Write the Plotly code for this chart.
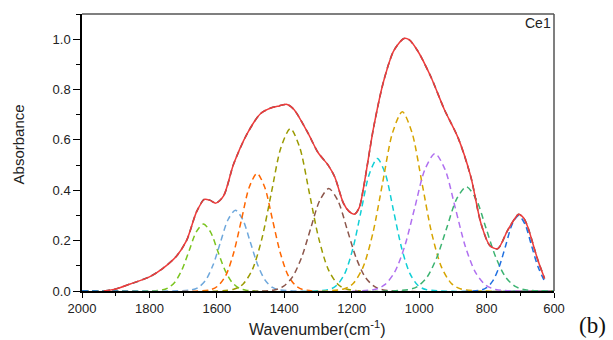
import plotly.graph_objects as go

# ---- data ----
# measured spectrum / cumulative fit (envelope)
env_x = [1935, 1900, 1857, 1800, 1760, 1720, 1690, 1660, 1637, 1620, 1603, 1580, 1550, 1510,
         1470, 1440, 1415, 1392, 1372, 1330, 1300, 1270, 1250, 1225, 1208, 1192, 1178, 1165,
         1135, 1105, 1075, 1045, 1030, 1005, 965, 925, 885, 847, 817, 790, 767, 738, 715, 705,
         690, 678, 648, 628]
env_y = [0.0, 0.008, 0.028, 0.056, 0.090, 0.138, 0.200, 0.315, 0.364, 0.360, 0.349, 0.378,
         0.505, 0.625, 0.705, 0.727, 0.735, 0.741, 0.722, 0.628, 0.550, 0.500, 0.452, 0.350,
         0.316, 0.305, 0.330, 0.410, 0.650, 0.835, 0.955, 1.003, 0.998, 0.955, 0.850, 0.720,
         0.610, 0.455, 0.270, 0.180, 0.168, 0.240, 0.290, 0.305, 0.290, 0.255, 0.123, 0.050]

# fitted component peaks (dashed)
c1_x = [1766, 1745, 1724, 1703, 1682, 1661, 1640, 1619, 1598, 1577, 1556, 1535, 1514]
c1_y = [0.003, 0.012, 0.036, 0.086, 0.161, 0.235, 0.266, 0.235, 0.161, 0.086, 0.036, 0.012, 0.003]
c2_x = [1677, 1655, 1633, 1611, 1589, 1567, 1545, 1523, 1501, 1479, 1457, 1435, 1413]
c2_y = [0.004, 0.014, 0.043, 0.104, 0.195, 0.283, 0.321, 0.283, 0.195, 0.104, 0.043, 0.014, 0.004]
c3_x = [1619, 1596, 1573, 1550, 1527, 1504, 1481, 1458, 1435, 1412, 1389, 1366, 1343]
c3_y = [0.005, 0.021, 0.063, 0.152, 0.283, 0.412, 0.467, 0.412, 0.283, 0.152, 0.063, 0.021, 0.005]
c4_x = [1550, 1522, 1494, 1466, 1438, 1410, 1382, 1354, 1326, 1298, 1270, 1242, 1214]
c4_y = [0.007, 0.028, 0.087, 0.210, 0.392, 0.569, 0.645, 0.569, 0.392, 0.210, 0.087, 0.028, 0.007]
c5_x = [1430, 1403, 1376, 1349, 1322, 1295, 1268, 1241, 1214, 1187, 1160, 1133, 1106]
c5_y = [0.004, 0.018, 0.055, 0.132, 0.247, 0.359, 0.407, 0.359, 0.247, 0.132, 0.055, 0.018, 0.004]
c6_x = [1268, 1244, 1220, 1196, 1172, 1148, 1124, 1100, 1076, 1052, 1028, 1004, 980]
c6_y = [0.006, 0.023, 0.071, 0.171, 0.319, 0.464, 0.526, 0.464, 0.319, 0.171, 0.071, 0.023, 0.006]
c7_x = [1224, 1195, 1166, 1137, 1108, 1079, 1050, 1021, 992, 963, 934, 905, 876]
c7_y = [0.008, 0.031, 0.096, 0.231, 0.432, 0.628, 0.712, 0.628, 0.432, 0.231, 0.096, 0.031, 0.008]
c8_x = [1133, 1103, 1073, 1043, 1013, 983, 953, 923, 893, 863, 833, 803, 773]
c8_y = [0.006, 0.024, 0.074, 0.177, 0.331, 0.482, 0.546, 0.482, 0.331, 0.177, 0.074, 0.024, 0.006]
c9_x = [1034, 1005, 976, 947, 918, 889, 860, 831, 802, 773, 744, 715, 686]
c9_y = [0.005, 0.018, 0.056, 0.135, 0.251, 0.365, 0.414, 0.365, 0.251, 0.135, 0.056, 0.018, 0.005]
c10_x = [819, 800, 781, 762, 743, 724, 705, 686, 667, 648, 625]
c10_y = [0.003, 0.013, 0.041, 0.098, 0.182, 0.265, 0.300, 0.265, 0.182, 0.098, 0.030]

components = [
    (c1_x, c1_y, "#7ac41e"),
    (c2_x, c2_y, "#6fa8dc"),
    (c3_x, c3_y, "#ff6600"),
    (c4_x, c4_y, "#9a9a00"),
    (c5_x, c5_y, "#8c564b"),
    (c6_x, c6_y, "#10cfd6"),
    (c7_x, c7_y, "#d6a400"),
    (c8_x, c8_y, "#b070f0"),
    (c9_x, c9_y, "#3cb371"),
    (c10_x, c10_y, "#1f6fe0"),
]

x_ticks = [2000, 1800, 1600, 1400, 1200, 1000, 800, 600]
y_ticks = [0.0, 0.2, 0.4, 0.6, 0.8, 1.0]

x_start, x_end = 2000, 600

fig = go.Figure()

for cx, cy, col in components:
    xs = [x_start] + cx + ([x_end] if cx[-1] > 630 else [])
    ys = [0.0] + cy + ([0.0] if cx[-1] > 630 else [])
    fig.add_trace(go.Scatter(x=xs, y=ys, mode="lines",
                             line=dict(color=col, width=1.5, dash="6px,4px", shape="spline", smoothing=0.8),
                             showlegend=False, hoverinfo="skip"))

fig.add_trace(go.Scatter(x=env_x, y=env_y, mode="lines",
                         line=dict(color="#555555", width=1.6, dash="6px,4px", shape="spline", smoothing=0.8),
                         showlegend=False, hoverinfo="skip"))
fig.add_trace(go.Scatter(x=env_x, y=env_y, mode="lines",
                         line=dict(color="#ee3b3b", width=1.5, shape="spline", smoothing=0.8),
                         showlegend=False, hoverinfo="skip"))

tick_font = dict(family="Liberation Sans, Arial", size=13, color="#222222")

fig.update_xaxes(range=[2000, 600], tickvals=x_ticks, ticktext=[str(v) for v in x_ticks],
                 showgrid=False, zeroline=False, showline=True, linecolor="black", linewidth=1.5,
                 ticks="outside", ticklen=5, tickwidth=1.2, tickcolor="black",
                 minor=dict(dtick=100, tick0=2000, ticks="outside", ticklen=3, tickcolor="black", tickwidth=1),
                 tickfont=tick_font)
fig.update_yaxes(range=[0, 1.1], tickvals=y_ticks, ticktext=[f"{v:.1f}" for v in y_ticks],
                 showgrid=False, zeroline=False, showline=True, linecolor="black", linewidth=1.5,
                 ticks="outside", ticklen=7, tickwidth=1.2, tickcolor="black",
                 minor=dict(dtick=0.1, tick0=0, ticks="outside", ticklen=4, tickcolor="black", tickwidth=1),
                 tickfont=tick_font)

# top / right frame in gray
fig.add_shape(type="line", xref="paper", yref="paper", x0=0, x1=1, y0=1, y1=1,
              line=dict(color="#555555", width=1.5))
fig.add_shape(type="line", xref="paper", yref="paper", x0=1, x1=1, y0=0, y1=1,
              line=dict(color="#555555", width=1.5))

fig.add_annotation(text="Absorbance", xref="paper", yref="paper", x=-0.1356, y=0.529,
                   textangle=-90, showarrow=False, xanchor="center", yanchor="middle",
                   font=dict(family="Liberation Sans Narrow, Liberation Sans, Arial", size=15, color="#222222"))
fig.add_annotation(text="Wavenumber(cm<sup>-1</sup>)", xref="paper", yref="paper", x=0.499, y=-0.133,
                   showarrow=False, xanchor="center", yanchor="middle",
                   font=dict(family="Liberation Sans, Arial", size=16, color="#222222"))
fig.add_annotation(text="Ce1", xref="paper", yref="paper", x=0.998, y=0.9675,
                   showarrow=False, xanchor="right", yanchor="middle",
                   font=dict(family="Liberation Sans, Arial", size=14, color="#222222"))
fig.add_annotation(text="(b)", xref="paper", yref="paper", x=1.0826, y=-0.125,
                   showarrow=False, xanchor="center", yanchor="middle",
                   font=dict(family="Liberation Serif, Times New Roman", size=23, color="#111111"))

fig.update_layout(width=613, height=340, margin=dict(l=82, r=59, t=14, b=49),
                  paper_bgcolor="white", plot_bgcolor="white")

fig.write_html("out.html")
